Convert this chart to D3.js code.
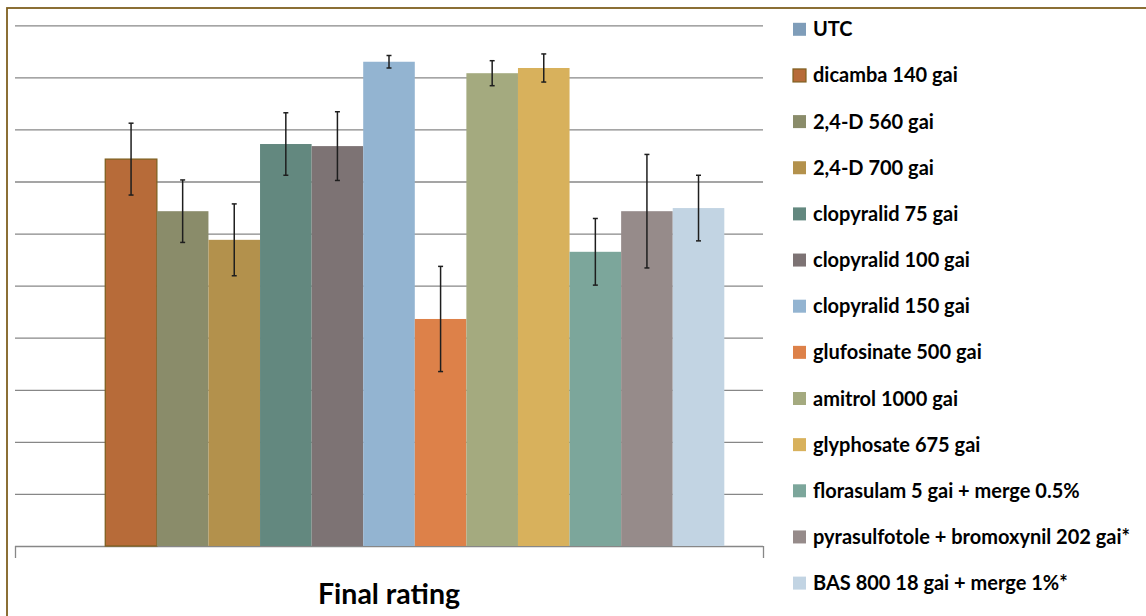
<!doctype html>
<head><meta charset="utf-8" />
<style>
  body { margin: 0; background: #fff; }
  svg { display: block; font-family: Lato, "Open Sans", sans-serif; }
</style>
</head>
<body>
<svg id="chart" width="1146" height="616"></svg>
<script src="https://cdn.jsdelivr.net/npm/d3@7/dist/d3.min.js"></script>
<script>
  // one category, thirteen treatments
  const category = ['Final rating']
  const treatments = [
    'UTC', 'dicamba 140 gai', '2,4-D 560 gai', '2,4-D 700 gai',
    'clopyralid 75 gai', 'clopyralid 100 gai', 'clopyralid 150 gai',
    'glufosinate 500 gai', 'amitrol 1000 gai', 'glyphosate 675 gai',
    'florasulam 5 gai + merge 0.5%', 'pyrasulfotole + bromoxynil 202 gai*',
    'BAS 800 18 gai + merge 1%*'
  ]
  const ratings = [0, 74.3, 64.3, 58.8, 77.2, 76.8, 93.0, 43.6, 90.8, 91.8, 56.5, 64.3, 64.9]
  const errors  = [0, 6.9, 6.0, 6.9, 6.0, 6.6, 1.2, 10.1, 2.4, 2.7, 6.4, 10.9, 6.3]
  const palette = [
    '#7f9db9', '#b76b39', '#8a8c6a', '#b3914c', '#63887f', '#7d7374', '#93b4d1',
    '#dd8149', '#a4aa7f', '#d8b15c', '#7ca69b', '#968b8a', '#c2d4e3'
  ]
  const yTicks = d3.range(0, 101, 10)

  const rows = treatments.map((name, i) => ({ name, value: ratings[i], err: errors[i] }))

  const svg = d3.select('#chart')
      , plotLeft = 15, plotRight = 763
      , baseY = 546, topY = 25.3

  // chart frame (runs off the right and bottom of the picture)
  svg.append('rect')
      .attr('x', 7).attr('y', 8)
      .attr('width', 1200).attr('height', 700)
      .attr('fill', 'none')
      .attr('stroke', '#7f6020')
      .attr('stroke-width', 1.8)

  const x0 = d3.scaleBand()
      .domain(category)
      .range([plotLeft, plotRight])
      .paddingInner(0)
      .paddingOuter(0.75 / treatments.length)

  const x1 = d3.scaleBand()
      .domain(treatments)
      .range([0, x0.bandwidth()])

  const y = d3.scaleLinear().domain([0, 100]).range([baseY, topY])

  // gridlines
  svg.append('g')
      .attr('transform', `translate(${plotLeft},0)`)
      .call(d3.axisLeft(y).tickValues(yTicks).tickSize(-(plotRight - plotLeft)).tickFormat(''))
      .call(g => g.select('.domain').remove())
      .call(g => g.selectAll('.tick line').attr('stroke', '#878787').attr('stroke-width', 1.3))

  // category axis: ticks on the plot edges, label in the middle
  const edge = d3.scaleLinear().domain([0, 1]).range([plotLeft, plotRight])
  svg.append('g')
      .attr('transform', `translate(0,${baseY})`)
      .call(d3.axisBottom(edge).tickValues([0, 1]).tickSize(12).tickFormat('').tickSizeOuter(0))
      .call(g => g.select('.domain').remove())
      .call(g => g.selectAll('.tick line').attr('stroke', '#878787').attr('stroke-width', 1.3))

  svg.append('text')
      .attr('x', x0(category[0]) + x0.bandwidth() / 2)
      .attr('y', 604)
      .attr('text-anchor', 'middle')
      .attr('font-size', 28.5)
      .attr('font-weight', 'bold')
      .text(category[0])

  const group = svg.append('g')
      .attr('transform', `translate(${x0(category[0])},0)`)

  group.selectAll('rect.bar')
    .data(rows)
    .join('rect')
      .attr('class', 'bar')
      .attr('x', d => x1(d.name))
      .attr('y', d => y(d.value))
      .attr('width', x1.bandwidth())
      .attr('height', d => baseY - y(d.value))
      .attr('fill', (d, i) => palette[i])
      .attr('stroke', (d, i) => i === 1 ? '#7f6020' : 'none')
      .attr('stroke-width', 1.3)

  // error bars
  const errs = group.selectAll('g.err')
    .data(rows.filter(d => d.value > 0))
    .join('g')
      .attr('class', 'err')
      .attr('transform', d => `translate(${x1(d.name) + x1.bandwidth() / 2},0)`)
      .attr('stroke', '#1e1e1e')
      .attr('stroke-width', 1.5)

  errs.append('line')
      .attr('y1', d => y(d.value + d.err))
      .attr('y2', d => y(d.value - d.err))
  errs.append('line')
      .attr('x1', -2.5).attr('x2', 2.5)
      .attr('y1', d => y(d.value + d.err)).attr('y2', d => y(d.value + d.err))
  errs.append('line')
      .attr('x1', -2.5).attr('x2', 2.5)
      .attr('y1', d => y(d.value - d.err)).attr('y2', d => y(d.value - d.err))

  // legend
  const legend = svg.append('g')
      .attr('transform', 'translate(793,29.3)')

  const item = legend.selectAll('g')
    .data(treatments)
    .join('g')
      .attr('transform', (d, i) => `translate(0,${i * 46.15})`)

  item.append('rect')
      .attr('x', 0).attr('y', -6.5)
      .attr('width', 13).attr('height', 13)
      .attr('fill', (d, i) => palette[i])
      .attr('stroke', (d, i) => i === 1 ? '#7f6020' : 'none')
      .attr('stroke-width', 1.2)

  item.append('text')
      .attr('x', 20)
      .attr('y', 7)
      .attr('font-size', 20)
      .attr('font-weight', 'bold')
      .attr('fill', '#000')
      .text(d => d)
</script>
</body>
